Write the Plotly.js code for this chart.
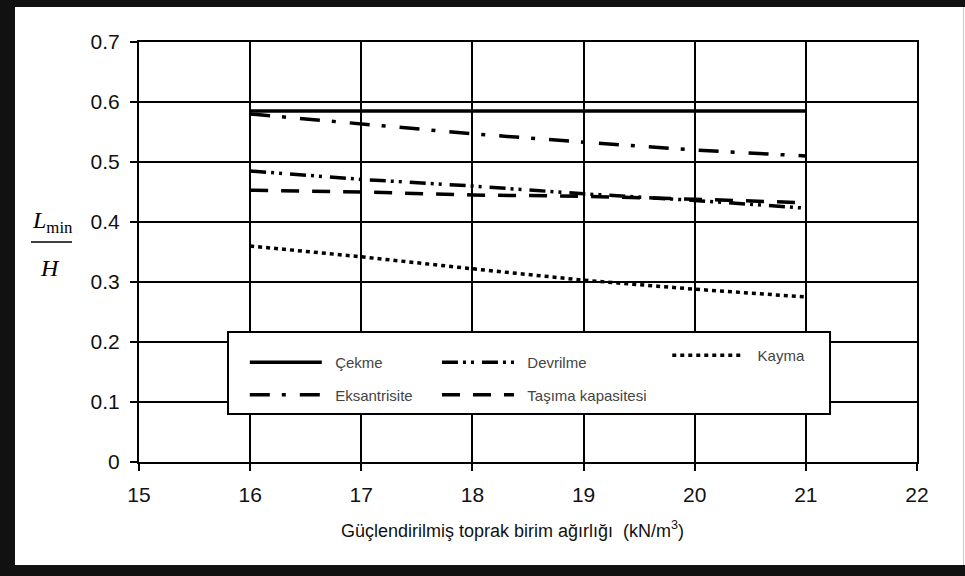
<!DOCTYPE html>
<html>
<head>
<meta charset="utf-8">
<script src="https://cdn.plot.ly/plotly-3.0.1.min.js"></script>
<style>
  html, body { margin: 0; padding: 0; width: 965px; height: 576px; background: #111; overflow: hidden; }
  #chart { position: absolute; left: 15px; top: 7px; width: 950px; height: 558px; background: #fff; }
  #edge { position: absolute; left: 963px; top: 7px; width: 1px; height: 558px; background: #ccc; }
</style>
</head>
<body>
<div id="chart"></div>
<div id="edge"></div>
<script>
// ---- data ----
const gamma = [16, 17, 18, 19, 20, 21];
const cekme = [0.585, 0.585, 0.585, 0.585, 0.585, 0.585];
const eksantrisite = [0.580, 0.563, 0.547, 0.533, 0.520, 0.510];
const devrilme = [0.485, 0.471, 0.460, 0.447, 0.436, 0.423];
const tasima = [0.453, 0.450, 0.445, 0.443, 0.438, 0.432];
const kayma = [0.360, 0.342, 0.322, 0.303, 0.288, 0.275];
const seriesNames = ['Çekme', 'Devrilme', 'Kayma', 'Eksantrisite', 'Taşıma kapasitesi'];
const xTickVals = [15, 16, 17, 18, 19, 20, 21, 22];
const xTickText = ['15', '16', '17', '18', '19', '20', '21', '22'];
const yTickVals = [0, 0.1, 0.2, 0.3, 0.4, 0.5, 0.6, 0.7];
const yTickText = ['0', '0.1', '0.2', '0.3', '0.4', '0.5', '0.6', '0.7'];
const xTitle = 'Güçlendirilmiş toprak birim ağırlığı&nbsp; (kN/m<sup>3</sup>)';

const W = 3.5;
const pad = '&nbsp;&nbsp;';
const traces = [
  {x: gamma, y: cekme, name: pad + seriesNames[0], legend: 'legend', legendgroup: 'a',
   line: {color: '#000', width: W, dash: 'solid'}},
  {x: gamma, y: devrilme, name: pad + seriesNames[1], legend: 'legend2', legendgroup: 'b',
   line: {color: '#000', width: W, dash: '16px,5px,3px,5px,3px,8px'}},
  {x: gamma, y: kayma, name: pad + seriesNames[2], legend: 'legend3', legendgroup: 'c',
   line: {color: '#000', width: W, dash: '4px,4px'}},
  {x: gamma, y: eksantrisite, name: pad + seriesNames[3], legend: 'legend', legendgroup: 'd',
   line: {color: '#000', width: W, dash: '20px,12px,4px,14px'}},
  {x: gamma, y: tasima, name: pad + seriesNames[4], legend: 'legend2', legendgroup: 'e',
   line: {color: '#000', width: W, dash: '18px,13px'}}
].map(t => Object.assign({type: 'scatter', mode: 'lines', hoverinfo: 'skip'}, t));

const legFont = {family: 'Liberation Sans, Arial, sans-serif', size: 15, color: '#444'};
const legBase = {
  bgcolor: 'rgba(0,0,0,0)', borderwidth: 0, orientation: 'v',
  xanchor: 'left', yanchor: 'top', font: legFont, tracegroupgap: 10, itemwidth: 72,
  itemclick: false, itemdoubleclick: false
};

const tickFont = {family: 'Liberation Sans, Arial, sans-serif', size: 21, color: '#111'};
const serif = 'Liberation Serif, Times New Roman, serif';

const layout = {
  width: 950, height: 558,
  margin: {l: 124, r: 48, t: 35, b: 103},
  paper_bgcolor: '#fff', plot_bgcolor: '#fff',
  showlegend: true,
  legend: Object.assign({}, legBase, {x: 0.136, y: 0.276}),
  legend2: Object.assign({}, legBase, {x: 0.383, y: 0.276}),
  legend3: Object.assign({}, legBase, {x: 0.679, y: 0.293}),
  xaxis: {
    range: [15, 22], tickvals: xTickVals, ticktext: xTickText,
    showgrid: true, gridcolor: '#000', gridwidth: 2,
    showline: true, linecolor: '#000', linewidth: 2, mirror: true,
    ticks: 'outside', ticklen: 7, tickwidth: 2, tickcolor: '#000',
    tickfont: tickFont, zeroline: false, fixedrange: true, ticklabelstandoff: 6
  },
  yaxis: {
    range: [0, 0.7], tickvals: yTickVals, ticktext: yTickText,
    showgrid: true, gridcolor: '#000', gridwidth: 2,
    showline: true, linecolor: '#000', linewidth: 2, mirror: true,
    ticks: 'outside', ticklen: 7, tickwidth: 2, tickcolor: '#000',
    tickfont: tickFont, zeroline: false, fixedrange: true, ticklabelstandoff: 6
  },
  shapes: [
    {type: 'rect', xref: 'paper', yref: 'paper', x0: 0.1144, x1: 0.8882, y0: 0.1143, y1: 0.3095,
     fillcolor: '#fff', line: {color: '#000', width: 2}, layer: 'above'},
    {type: 'line', xref: 'paper', yref: 'paper', x0: -0.1388, x1: -0.0861, y0: 0.5238, y1: 0.5238,
     line: {color: '#000', width: 1.5}}
  ],
  annotations: [
    {xref: 'paper', yref: 'paper', x: -0.1118, y: 0.5714, xanchor: 'center', yanchor: 'middle', showarrow: false,
     text: '<i>L</i><sub>min</sub>', font: {family: serif, size: 24, color: '#000'}},
    {xref: 'paper', yref: 'paper', x: -0.1144, y: 0.4619, xanchor: 'center', yanchor: 'middle', showarrow: false,
     text: '<i>H</i>', font: {family: serif, size: 24, color: '#000'}},
    {xref: 'paper', yref: 'paper', x: 0.4807, y: -0.1619, xanchor: 'center', yanchor: 'middle', showarrow: false,
     text: xTitle, font: {family: 'Liberation Sans, Arial, sans-serif', size: 18, color: '#111'}}
  ]
};

Plotly.newPlot('chart', traces, layout, {displayModeBar: false, staticPlot: true});
</script>
</body>
</html>
